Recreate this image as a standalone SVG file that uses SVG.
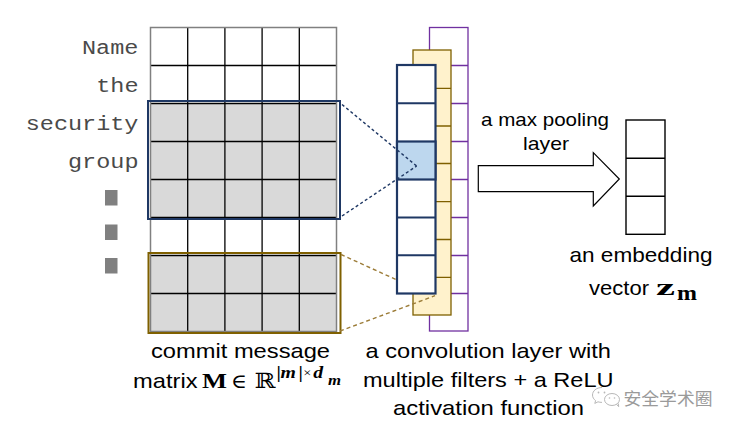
<svg xmlns="http://www.w3.org/2000/svg" width="738" height="431" viewBox="0 0 738 431">
<style>
.mono{font-family:"Liberation Mono","Courier New",monospace;font-size:19.5px;fill:#4a4a4a}
.sans{font-family:"Liberation Sans",Arial,sans-serif;fill:#000}
.cap{font-size:21px}
.bs{font-family:"Liberation Serif","DejaVu Serif",serif;font-weight:bold;fill:#000}
.bi{font-family:"Liberation Serif","DejaVu Serif",serif;font-weight:bold;font-style:italic;fill:#000}
.sym{font-family:"DejaVu Serif","Liberation Serif",serif;fill:#000}
.grey{fill:#d9d9d9}
.gl{stroke:#000;stroke-width:1.3}
.dot{fill:#808080}
.pl{stroke:#7030a0;stroke-width:1.3}
.yl{stroke:#7f6000;stroke-width:1.3}
.bl{stroke:#1f3864;stroke-width:2}
.wm{fill:none;stroke:#b8b8b8;stroke-width:1}
</style>
<rect width="738" height="431" fill="#fff"/>

<g id="words">
<text class="mono" x="82" y="54" textLength="56.4" lengthAdjust="spacingAndGlyphs">Name</text>
<text class="mono" x="96.2" y="92" textLength="42.3" lengthAdjust="spacingAndGlyphs">the</text>
<text class="mono" x="25.7" y="130" textLength="112.8" lengthAdjust="spacingAndGlyphs">security</text>
<text class="mono" x="68" y="168" textLength="70.5" lengthAdjust="spacingAndGlyphs">group</text>
<rect class="dot" x="105" y="190" width="12.5" height="15.5"/>
<rect class="dot" x="105" y="224.5" width="12.5" height="15.5"/>
<rect class="dot" x="105" y="258" width="12.5" height="15.5"/>
</g>

<g id="matrix">
<rect x="150.5" y="27.5" width="186" height="304" fill="#fff"/>
<rect class="grey" x="150.5" y="103.5" width="186" height="114"/>
<rect class="grey" x="150.5" y="255.5" width="186" height="76"/>
<g class="gl">
<line x1="187.7" y1="27.5" x2="187.7" y2="331.5"/>
<line x1="224.9" y1="27.5" x2="224.9" y2="331.5"/>
<line x1="262.1" y1="27.5" x2="262.1" y2="331.5"/>
<line x1="299.3" y1="27.5" x2="299.3" y2="331.5"/>
<line x1="150.5" y1="65.5" x2="336.5" y2="65.5"/>
<line x1="150.5" y1="103.5" x2="336.5" y2="103.5"/>
<line x1="150.5" y1="141.5" x2="336.5" y2="141.5"/>
<line x1="150.5" y1="179.5" x2="336.5" y2="179.5"/>
<line x1="150.5" y1="217.5" x2="336.5" y2="217.5"/>
<line x1="150.5" y1="255.5" x2="336.5" y2="255.5"/>
<line x1="150.5" y1="293.5" x2="336.5" y2="293.5"/>
</g>
<rect x="150.5" y="27.5" width="186" height="304" fill="none" stroke="#808080" stroke-width="1.5"/>
<rect x="148" y="101" width="192" height="118" fill="none" stroke="#1f3864" stroke-width="2"/>
<rect x="148.5" y="253" width="192" height="80" fill="none" stroke="#7f6000" stroke-width="2"/>
</g>

<g id="conv-layer">
<rect x="429.5" y="27.5" width="38.5" height="303.5" fill="#fff" stroke="#7030a0" stroke-width="1.3"/>
<g class="pl">
<line x1="429.5" y1="65.5" x2="468" y2="65.5"/>
<line x1="429.5" y1="103.5" x2="468" y2="103.5"/>
<line x1="429.5" y1="141.5" x2="468" y2="141.5"/>
<line x1="429.5" y1="179.5" x2="468" y2="179.5"/>
<line x1="429.5" y1="217.5" x2="468" y2="217.5"/>
<line x1="429.5" y1="255.5" x2="468" y2="255.5"/>
<line x1="429.5" y1="293.5" x2="468" y2="293.5"/>
</g>
<rect x="413" y="50" width="38" height="265" fill="#fff2cc" stroke="#7f6000" stroke-width="1.3"/>
<g class="yl">
<line x1="413" y1="88.3" x2="451" y2="88.3"/>
<line x1="413" y1="126" x2="451" y2="126"/>
<line x1="413" y1="163.5" x2="451" y2="163.5"/>
<line x1="413" y1="201.7" x2="451" y2="201.7"/>
<line x1="413" y1="239.5" x2="451" y2="239.5"/>
<line x1="413" y1="277.3" x2="451" y2="277.3"/>
</g>
<rect x="397" y="65" width="38.5" height="228.5" fill="#fff" stroke="#1f3864" stroke-width="2.2"/>
<rect x="397" y="141.5" width="38.5" height="38" fill="#bdd7ee" stroke="#1f3864" stroke-width="2.2"/>
<g class="bl">
<line x1="397" y1="103.3" x2="435.5" y2="103.3"/>
<line x1="397" y1="217.5" x2="435.5" y2="217.5"/>
<line x1="397" y1="255.3" x2="435.5" y2="255.3"/>
</g>
</g>

<g id="connectors" fill="none">
<line x1="342" y1="104.5" x2="416.7" y2="166" stroke="#1f3864" stroke-width="1.4" stroke-dasharray="3 2.5"/>
<line x1="342" y1="216" x2="416.7" y2="166" stroke="#1f3864" stroke-width="1.4" stroke-dasharray="3 2.5"/>
<line x1="341" y1="254.5" x2="397" y2="280" stroke="#9c7c38" stroke-width="1.4" stroke-dasharray="4 3"/>
<line x1="340" y1="331" x2="435" y2="295.7" stroke="#9c7c38" stroke-width="1.4" stroke-dasharray="4 3"/>
</g>

<g id="pool-arrow">
<polygon points="478.3,165.7 593.3,165.7 593.3,152.7 619.3,179 593.3,206 593.3,191.7 478.3,191.7" fill="#fff" stroke="#000" stroke-width="1.2"/>
<text class="sans" font-size="19" x="481" y="126" textLength="128" lengthAdjust="spacingAndGlyphs">a max pooling</text>
<text class="sans" font-size="19" x="523" y="150" textLength="46" lengthAdjust="spacingAndGlyphs">layer</text>
</g>

<g id="embedding">
<rect x="626" y="120" width="39" height="114.3" fill="#fff" stroke="#000" stroke-width="1.4"/>
<line x1="626" y1="158.3" x2="665" y2="158.3" stroke="#000" stroke-width="1.4"/>
<line x1="626" y1="196.2" x2="665" y2="196.2" stroke="#000" stroke-width="1.4"/>
<text class="sans cap" x="569.5" y="261.5" textLength="143" lengthAdjust="spacingAndGlyphs">an embedding</text>
<text class="sans cap" x="589" y="295" textLength="60" lengthAdjust="spacingAndGlyphs">vector</text>
<text class="bs" font-size="24" x="656" y="295" textLength="19" lengthAdjust="spacingAndGlyphs">z</text>
<text class="bs" font-size="20" x="677" y="300" textLength="20" lengthAdjust="spacingAndGlyphs">m</text>
</g>

<g id="matrix-caption">
<text class="sans cap" x="151" y="358.3" textLength="179" lengthAdjust="spacingAndGlyphs">commit message</text>
<text class="sans cap" x="133" y="388.3" textLength="64.5" lengthAdjust="spacingAndGlyphs">matrix</text>
<text class="bs" font-size="21" x="202" y="388.3" textLength="25" lengthAdjust="spacingAndGlyphs">M</text>
<text class="sym" font-size="20" x="231" y="388.3" textLength="16" lengthAdjust="spacingAndGlyphs">∈</text>
<text class="sym" font-size="21" x="254.5" y="388.3" textLength="21" lengthAdjust="spacingAndGlyphs">ℝ</text>
<text class="bi" font-size="16.5" transform="translate(276.5,378) scale(1.2,1)"><tspan x="0" y="0" font-style="normal">|</tspan><tspan x="3.3" y="0">m</tspan><tspan x="18.3" y="0" font-style="normal">|</tspan><tspan x="22.3" y="-1" font-weight="normal" font-style="normal" font-size="12">×</tspan><tspan x="30.6" y="0">d</tspan><tspan x="43" y="7" font-size="14">m</tspan></text>
</g>

<g id="conv-caption">
<text class="sans cap" x="365.5" y="358.3" textLength="245.5" lengthAdjust="spacingAndGlyphs">a convolution layer with</text>
<text class="sans cap" x="363" y="386.7" textLength="250.5" lengthAdjust="spacingAndGlyphs">multiple filters + a ReLU</text>
<text class="sans cap" x="393" y="415" textLength="191" lengthAdjust="spacingAndGlyphs">activation function</text>
</g>

<g id="watermark">
<path class="wm" d="M602,387.5 c-5.5,0 -9.5,3.4 -9.5,7.5 c0,2.3 1.2,4.2 3.1,5.6 l-0.8,2.8 l3.2,-1.6 c1.2,0.4 2.5,0.6 4,0.6"/>
<ellipse class="wm" cx="612" cy="399.5" rx="7.5" ry="6" fill="#fff"/>
<path class="wm" d="M616.5,404.3 l2.2,2.4 l-0.4,-3.3"/>
<circle cx="598.5" cy="392.5" r="0.9" fill="#b8b8b8"/>
<circle cx="604.5" cy="392.5" r="0.9" fill="#b8b8b8"/>
<circle cx="609.5" cy="398" r="0.8" fill="#b8b8b8"/>
<circle cx="614.5" cy="398" r="0.8" fill="#b8b8b8"/>
<text x="623.5" y="404.5" font-family="'Noto Sans CJK SC','Noto Sans CJK TC',sans-serif" font-size="17.5" fill="#9a9a9a" textLength="89" lengthAdjust="spacingAndGlyphs">安全学术圈</text>
</g>
</svg>
